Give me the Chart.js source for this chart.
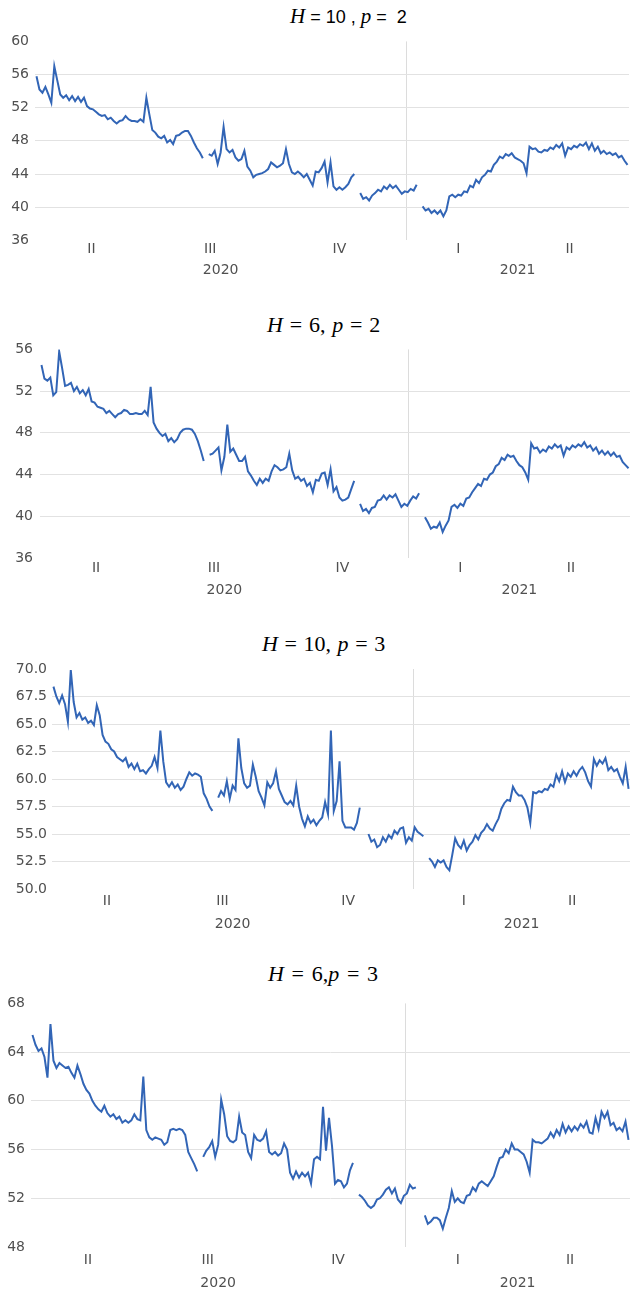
<!DOCTYPE html>
<html><head><meta charset="utf-8">
<script src="https://cdn.jsdelivr.net/npm/chart.js@4"></script>
<style>
html,body{margin:0;padding:0;background:#fff;}
body{width:630px;height:1293px;position:relative;overflow:hidden;}
.title{position:absolute;font-family:"Liberation Serif","DejaVu Serif",serif;font-size:22px;color:#000;white-space:pre;line-height:1;}
.title i{font-style:italic;}
.title .s{font-family:"Liberation Sans","Open Sans",sans-serif;font-size:18px;}
.panel{position:absolute;left:0;width:630px;}
</style></head><body>
<div class="title" style="left:290px;top:6px;font-size:21px"><i>H</i><span class="s"> = 10 , </span><i>p</i><span class="s"> =  2</span></div>
<div class="title" style="left:267px;top:314px;word-spacing:1.3px"><i>H</i> = 6, <i>p</i> = 2</div>
<div class="title" style="left:262px;top:633px;word-spacing:1.1px"><i>H</i> = 10, <i>p</i> = 3</div>
<div class="title" style="left:268px;top:963px;word-spacing:2.2px"><i>H</i> = 6,<i>p</i> = 3</div>
<div class="panel" id="p0"><canvas id="c0"></canvas></div>
<div class="panel" id="p1"><canvas id="c1"></canvas></div>
<div class="panel" id="p2"><canvas id="c2"></canvas></div>
<div class="panel" id="p3"><canvas id="c3"></canvas></div>
<script>
// ---- categories (one point per ~1.5 trading days) ----
const dayIndex = Array.from({length: 200}, (_, i) => i);
const quarterLabels = ['II', 'III', 'IV', 'I', 'II'];
const quarterLengths = [38, 42, 45, 35, 40];
const yearLabels = ['2020', '2021'];
const yearQuarterCounts = [3, 2];

// ---- series ----
const seriesH10p2 = [
55.8,54.2,53.8,54.5,53.6,52.6,57.0,55.3,53.6,53.2,
53.5,52.9,53.4,52.8,53.3,52.7,53.2,52.2,51.9,51.8,
51.5,51.2,51.0,51.1,50.6,50.8,50.4,50.1,50.4,50.5,
51.0,50.6,50.4,50.4,50.3,50.6,50.3,53.2,51.2,49.3,
49.0,48.5,48.3,48.6,47.8,48.1,47.6,48.6,48.7,49.0,
49.2,49.2,48.6,47.8,47.1,46.6,45.9,null,46.4,46.2,
46.8,45.2,46.6,49.7,47.0,46.6,46.9,46.0,45.6,45.8,
46.8,44.9,44.4,43.6,43.9,44.0,44.1,44.3,44.6,45.4,
45.1,44.8,45.0,45.3,47.0,45.2,44.2,44.0,44.3,44.0,
43.6,44.0,43.3,42.6,44.3,44.2,44.7,45.5,43.0,45.4,
42.5,42.1,42.4,42.1,42.4,42.8,43.6,44.0,null,41.7,
41.0,41.2,40.8,41.4,41.7,42.1,41.9,42.5,42.2,42.7,
42.3,42.6,42.1,41.6,41.9,41.8,42.2,42.0,42.7,null,
40.1,39.6,39.8,39.3,39.6,39.2,39.6,38.9,39.6,41.3,
41.5,41.2,41.5,41.4,41.9,41.8,42.6,42.4,43.3,42.9,
43.6,43.9,44.4,44.3,45.1,45.5,46.1,45.9,46.4,46.2,
46.5,46.0,45.8,45.6,45.3,44.1,47.3,47.0,47.1,46.7,
46.6,46.9,46.8,47.2,47.0,47.5,47.2,47.7,46.2,47.2,
47.0,47.4,47.2,47.6,47.4,47.8,47.0,47.7,46.8,47.3,
46.5,46.8,46.4,46.6,46.3,46.5,46.0,46.2,45.6,45.1];

const seriesH6p2 = [
54.5,53.2,53.0,53.3,51.6,51.9,55.8,54.2,52.5,52.6,
52.8,52.0,52.4,51.8,52.1,51.6,52.2,51.0,50.9,50.5,
50.4,50.3,49.9,50.1,49.8,49.5,49.8,49.9,50.2,50.1,
49.8,49.8,49.9,49.8,49.8,50.1,49.7,52.4,49.0,48.4,
48.0,47.7,47.9,47.2,47.5,47.1,47.4,48.0,48.3,48.4,
48.4,48.3,47.9,47.2,46.3,45.3,null,45.9,46.0,46.3,
46.6,44.4,45.7,48.8,46.2,46.5,45.9,45.3,45.3,45.7,
44.3,43.9,43.4,43.0,43.6,43.2,43.6,43.4,44.3,44.9,
44.7,44.4,44.5,44.7,46.0,44.4,43.6,43.8,43.4,43.6,
42.9,43.2,42.3,43.5,43.4,44.1,44.2,43.0,44.5,42.4,
42.8,41.8,41.5,41.6,41.8,42.6,43.4,null,41.2,40.5,
40.7,40.3,40.8,40.9,41.5,41.6,42.0,41.6,42.0,41.8,
42.1,41.5,40.9,41.2,41.0,41.5,41.9,41.7,42.2,null,
39.9,39.4,38.8,39.0,38.9,39.4,38.5,39.1,39.6,40.9,
41.1,40.8,41.2,41.0,41.7,41.8,42.3,42.7,43.1,42.9,
43.6,43.5,44.0,44.2,44.8,45.0,45.6,45.4,45.9,45.7,
45.8,45.3,44.9,44.7,44.2,43.5,47.0,46.5,46.6,46.1,
46.4,46.2,46.7,46.5,46.9,46.6,46.8,45.8,46.6,46.4,
46.8,46.6,46.9,46.7,47.1,46.6,46.8,46.3,46.6,46.0,
46.3,45.9,46.2,45.8,46.1,45.7,45.8,45.2,44.9,44.6];

const seriesH10p3 = [
68.4,67.5,66.9,67.6,66.8,65.2,69.9,67.0,65.6,66.0,
65.4,65.6,65.1,65.3,64.9,66.7,65.8,64.0,63.4,63.2,
62.7,62.5,62.0,61.8,61.6,61.9,61.1,61.4,60.9,61.4,
60.7,60.8,60.5,60.9,61.2,62.0,61.0,64.4,61.6,59.7,
59.3,59.7,59.2,59.5,59.0,59.3,60.0,60.6,60.3,60.5,
60.4,60.2,58.7,58.2,57.5,57.1,null,58.3,58.9,58.5,
59.8,58.2,59.4,59.0,63.7,61.0,59.6,59.2,59.4,61.3,
60.2,58.9,58.3,57.6,59.7,59.2,59.6,60.7,59.1,58.5,
57.9,57.7,58.0,57.6,59.4,57.5,56.4,55.7,56.6,56.0,
56.3,55.8,56.2,56.5,57.9,56.8,64.4,57.1,58.0,61.6,
56.2,55.6,55.6,55.6,55.4,56.0,57.4,null,null,55.0,
54.3,54.5,53.8,54.0,54.7,54.3,54.9,54.6,55.3,55.0,
55.5,55.6,54.2,54.7,54.4,55.6,55.2,55.0,54.8,null,
52.8,52.5,52.0,52.6,52.4,52.6,52.0,51.7,53.1,54.6,
54.0,53.7,54.4,53.5,54.0,54.3,54.9,54.5,55.1,55.4,
55.9,55.5,55.3,55.9,56.4,57.3,57.8,58.1,58.0,59.3,
58.8,58.5,58.5,58.1,57.4,56.0,58.8,58.7,58.9,58.8,
59.1,59.0,59.5,59.3,60.4,59.8,60.7,59.7,60.5,60.2,
60.7,60.3,60.8,61.1,60.6,59.8,59.3,61.8,61.2,61.7,
61.4,61.9,60.8,61.1,60.7,60.9,60.2,59.6,61.1,59.1];

const seriesH6p3 = [
65.4,64.6,64.1,64.3,63.6,61.9,66.3,63.3,62.7,63.1,
62.9,62.7,62.8,62.3,61.9,62.9,62.2,61.4,60.9,60.6,
60.0,59.6,59.3,59.1,59.6,59.0,58.7,58.9,58.5,58.7,
58.2,58.4,58.2,58.4,58.9,58.5,58.4,62.0,57.6,57.0,
56.8,57.0,56.9,56.8,56.4,56.6,57.6,57.7,57.6,57.7,
57.6,57.2,55.8,55.3,54.8,54.2,null,55.4,55.9,56.2,
56.7,55.4,56.4,60.1,58.9,57.1,56.7,56.6,56.8,58.7,
57.4,57.2,55.8,55.3,57.2,56.8,56.7,56.9,57.5,55.8,
55.6,55.8,55.5,55.7,56.5,56.0,54.1,53.6,54.2,53.7,
54.1,53.8,54.1,53.2,55.2,55.4,55.2,59.5,55.9,58.6,
56.3,53.2,53.5,53.4,52.9,53.2,54.3,54.9,null,52.3,
52.1,51.8,51.4,51.2,51.4,51.9,52.0,52.3,52.7,52.9,
52.4,52.8,51.9,51.6,52.2,52.4,53.1,52.8,52.9,null,
null,50.6,49.9,50.1,50.4,50.4,50.2,49.5,50.4,51.2,
52.6,51.7,52.0,51.7,51.6,52.2,52.3,52.9,52.6,53.2,
53.4,53.2,53.0,53.4,53.8,54.6,55.3,55.4,56.0,55.7,
56.5,56.0,56.0,55.8,55.6,55.0,54.1,56.8,56.6,56.6,
56.5,56.7,56.9,57.4,57.0,57.6,57.2,58.1,57.4,57.9,
57.5,57.9,57.6,58.1,57.8,58.3,57.4,57.3,58.6,57.7,
59.1,58.6,59.1,58.0,58.2,57.6,57.8,57.5,58.3,56.8];

// ---- derived category groups ----
const quarterCenters = [], quarterEdges = [-0.5];
quarterLengths.forEach((n, k) => {
  const s = quarterEdges[k];
  quarterCenters.push(s + n / 2);
  quarterEdges.push(s + n);
});
const yearCenters = [], yearEdges = [-0.5];
let qi = 0;
yearQuarterCounts.forEach((c, k) => {
  const s = quarterEdges[qi], e = quarterEdges[qi + c];
  yearCenters.push((s + e) / 2);
  yearEdges.push(e);
  qi += c;
});
const yearBoundary = yearEdges[1];
const xMin = -0.5, xMax = dayIndex.length - 0.5;

// ---- layout / style ----
const panels = [
  {id: 0, data: seriesH10p2, min: 36, max: 60, step: 4, dec: 0, left: 35, top: 40.7, bottom: 240, pq: 1, py: 2, yp: 6},
  {id: 1, data: seriesH6p2,  min: 36, max: 56, step: 4, dec: 0, left: 40, top: 348, bottom: 558, pq: 2, py: 4, yp: 7},
  {id: 2, data: seriesH10p3, min: 50, max: 70, step: 2.5, dec: 1, left: 52, top: 668.5, bottom: 888.5, pq: 3.5, py: 6.5, yp: 5},
  {id: 3, data: seriesH6p3,  min: 48, max: 68, step: 4, dec: 0, left: 31, top: 1003, bottom: 1247, pq: 5, py: 8, yp: 6}
];
const PAD_TOP = 14, QH = 20, YH = 28;
const tickFont = {family: '"DejaVu Sans", "Open Sans", sans-serif', size: 14};
const tickColor = '#505050';
const gridColor = '#e2e2e2';
const lineColor = '#3265b6';

panels.forEach(p => {
  const div = document.getElementById('p' + p.id);
  div.style.top = (p.top - PAD_TOP) + 'px';
  div.style.height = (PAD_TOP + (p.bottom - p.top) + QH + YH) + 'px';
  new Chart(document.getElementById('c' + p.id), {
    type: 'line',
    data: {
      labels: dayIndex,
      datasets: [{
        data: p.data, borderColor: lineColor, borderWidth: 2,
        pointRadius: 0, tension: 0, spanGaps: false, fill: false
      }]
    },
    options: {
      responsive: true, maintainAspectRatio: false, animation: false,
      layout: {padding: {top: PAD_TOP, left: 0, right: 0, bottom: 0}},
      plugins: {legend: {display: false}, tooltip: {enabled: false}, title: {display: false}},
      scales: {
        x: {
          type: 'linear', position: 'bottom', weight: 0, min: xMin, max: xMax,
          afterBuildTicks: ax => { ax.ticks = quarterCenters.map(v => ({value: v})); },
          afterFit: ax => { ax.height = QH; },
          grid: {display: false, drawTicks: false}, border: {display: false},
          ticks: {autoSkip: false, maxRotation: 0, padding: p.pq, font: tickFont, color: tickColor,
                  callback: (v, i) => quarterLabels[i]}
        },
        x2: {
          type: 'linear', position: 'bottom', weight: 1, min: xMin, max: xMax,
          afterBuildTicks: ax => { ax.ticks = yearCenters.concat([yearBoundary]).map(v => ({value: v})); },
          afterFit: ax => { ax.height = YH; },
          grid: {display: true, drawTicks: false, lineWidth: 1,
                 color: ctx => (ctx.tick && ctx.tick.value === yearBoundary) ? '#dcdcdc' : 'rgba(0,0,0,0)'},
          border: {display: false},
          ticks: {autoSkip: false, maxRotation: 0, padding: p.py, font: tickFont, color: tickColor,
                  callback: (v, i) => i < yearLabels.length ? yearLabels[i] : ''}
        },
        y: {
          type: 'linear', min: p.min, max: p.max,
          afterFit: ax => { ax.width = p.left; },
          border: {display: false},
          grid: {drawTicks: false, lineWidth: 1,
                 color: ctx => (ctx.tick && (ctx.tick.value === p.min || ctx.tick.value === p.max)) ? 'rgba(0,0,0,0)' : gridColor},
          ticks: {stepSize: p.step, padding: p.yp, font: tickFont, color: tickColor,
                  callback: v => v.toFixed(p.dec)}
        }
      }
    }
  });
});
</script>
</body></html>
